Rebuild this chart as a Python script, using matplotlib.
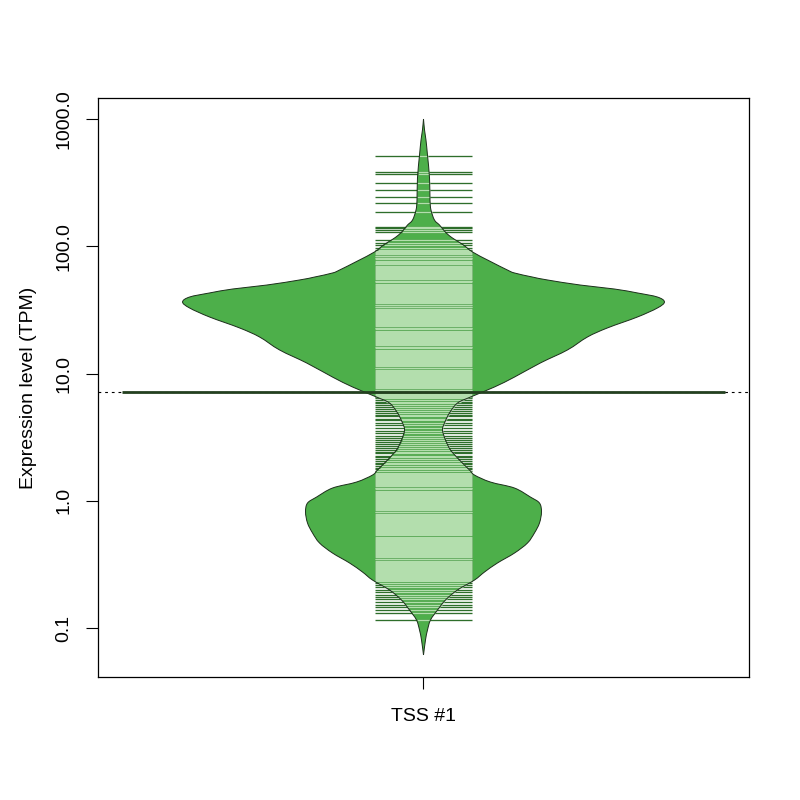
import matplotlib
matplotlib.use("Agg")
import matplotlib.pyplot as plt
import numpy as np
from matplotlib.patches import PathPatch
from matplotlib.path import Path

plt.rcParams["font.family"] = ["Liberation Sans", "DejaVu Sans"]

# bean outline: log10(TPM) and half-width (x units)
outline_log = [3.000, 2.914, 2.835, 2.717, 2.536, 2.363, 2.285, 2.206, 2.167, 2.128,
               2.088, 2.049, 2.010, 1.955, 1.884, 1.813, 1.790, 1.758, 1.735, 1.695,
               1.664, 1.633, 1.601, 1.562, 1.515, 1.444, 1.358, 1.287, 1.185, 1.083,
               0.972, 0.894, 0.815, 0.768, 0.690, 0.611, 0.556, 0.477, 0.399, 0.320,
               0.242, 0.202, 0.147, 0.100, 0.029, -0.018, -0.088, -0.175, -0.253, -0.332,
               -0.411, -0.489, -0.560, -0.623, -0.701, -0.780, -0.859, -0.937, -1.016, -1.094,
               -1.212]
outline_hw = [0.0, 0.0017, 0.0041, 0.0066, 0.0100, 0.0108, 0.0124, 0.0182, 0.0265, 0.0332,
              0.0415, 0.0531, 0.0663, 0.0813, 0.1095, 0.1393, 0.1509, 0.1808, 0.2056, 0.2604,
              0.3167, 0.3549, 0.3881, 0.3997, 0.3881, 0.3549, 0.3051, 0.2720, 0.2388, 0.1940,
              0.1509, 0.1177, 0.0779, 0.0564, 0.0431, 0.0348, 0.0315, 0.0365, 0.0448, 0.0597,
              0.0763, 0.0846, 0.1111, 0.1509, 0.1774, 0.1924, 0.1957, 0.1924, 0.1841, 0.1725,
              0.1509, 0.1227, 0.1012, 0.0846, 0.0564, 0.0365, 0.0232, 0.0116, 0.0066, 0.0033,
              0.0]

# individual observations (log10 TPM), one bean line each
obs_log = [
    2.709, 2.583, 2.568, 2.497, 2.442, 2.387, 2.340, 2.269, 2.151, 2.140, 2.125, 2.113,
    2.049, 2.029, 2.010, 1.990, 1.974, 1.959,
    1.951, 1.944, 1.938, 1.927, 1.921, 1.910, 1.904, 1.897, 1.886, 1.880, 1.871, 1.862,
    1.857, 1.846, 1.839, 1.833, 1.822, 1.815, 1.807, 1.799, 1.788, 1.782, 1.774, 1.766,
    1.757, 1.749, 1.741, 1.730, 1.724, 1.716, 1.707, 1.697, 1.691, 1.682, 1.675, 1.666,
    1.657, 1.650, 1.640, 1.633, 1.626, 1.615, 1.609, 1.601, 1.592, 1.584, 1.577, 1.566,
    1.560, 1.551, 1.542, 1.536, 1.525, 1.519, 1.510, 1.502, 1.495, 1.484, 1.478, 1.469,
    1.461, 1.453, 1.443, 1.437, 1.428, 1.419, 1.412, 1.402, 1.396, 1.387, 1.379, 1.371,
    1.361, 1.354, 1.347, 1.336, 1.329, 1.321, 1.312, 1.305, 1.294, 1.288, 1.279, 1.270,
    1.263, 1.253, 1.247, 1.238, 1.229, 1.222, 1.211, 1.205, 1.197, 1.188, 1.180, 1.171,
    1.164, 1.155, 1.146, 1.139, 1.129, 1.123, 1.114, 1.105, 1.097, 1.088, 1.081, 1.072,
    1.064, 1.057, 1.046, 1.040, 1.031, 1.022, 1.015, 1.005, 0.999, 0.990, 0.981, 0.974,
    0.964, 0.957, 0.949, 0.940, 0.933, 0.923, 0.916, 0.908, 0.898, 0.892, 0.883, 0.874,
    0.867, 0.857, 0.851, 0.842, 0.833, 0.826, 0.817,
    0.806, 0.791, 0.779, 0.768, 0.749, 0.736, 0.722, 0.709, 0.690, 0.676, 0.664, 0.645,
    0.631, 0.612, 0.596, 0.574, 0.551, 0.530, 0.512, 0.497, 0.479, 0.462, 0.448, 0.430,
    0.418, 0.401, 0.386, 0.372, 0.355, 0.341, 0.329, 0.312, 0.298, 0.285, 0.270, 0.259,
    0.246, 0.233, 0.222, 0.211,
    0.203, 0.196, 0.187, 0.180, 0.171, 0.162, 0.155, 0.145, 0.138, 0.130, 0.121, 0.114,
    0.104, 0.097, 0.089, 0.080, 0.072, 0.063, 0.056, 0.047, 0.038, 0.031, 0.022, 0.014,
    0.006, -0.003, -0.010, -0.019, -0.027, -0.034, -0.044, -0.051, -0.060, -0.068, -0.075,
    -0.085, -0.092, -0.101, -0.109, -0.117, -0.126, -0.133, -0.142, -0.150, -0.158, -0.167,
    -0.174, -0.183, -0.191, -0.199, -0.208, -0.215, -0.224, -0.232, -0.240, -0.249, -0.256,
    -0.265, -0.273, -0.281, -0.290, -0.297, -0.306, -0.314, -0.322, -0.331, -0.338, -0.347,
    -0.355, -0.363, -0.372, -0.379, -0.388, -0.396, -0.404, -0.413, -0.420, -0.429, -0.437,
    -0.445, -0.454, -0.461, -0.470, -0.478, -0.486, -0.495, -0.502, -0.511, -0.519, -0.527,
    -0.536, -0.543, -0.552, -0.560, -0.568, -0.577, -0.584, -0.593, -0.601, -0.609, -0.618,
    -0.626, -0.634,
    -0.646, -0.662, -0.678, -0.701, -0.718, -0.742, -0.756, -0.772, -0.796, -0.819, -0.835,
    -0.859, -0.882, -0.937,
]

mean_tpm = 7.16
group_labels = ["TSS #1"]
y_ticks = [0.1, 1.0, 10.0, 100.0, 1000.0]
y_tick_labels = ["0.1", "1.0", "10.0", "100.0", "1000.0"]

BEAN = "#4DAF4A"
LINE_IN = "#B3DEAD"
LINE_OUT = "#2E6E2B"
EDGE = "#1B2E1A"
AVG = "#23401F"


def smooth_side(xs, ys):
    """Bezier segments (Catmull-Rom control points) through the outline points."""
    p = np.column_stack([xs, ys])
    pe = np.vstack([p[0], p, p[-1]])
    verts, codes = [p[0]], [Path.MOVETO]
    for i in range(len(p) - 1):
        p0, p1, p2, p3 = pe[i], pe[i + 1], pe[i + 2], pe[i + 3]
        verts += [p1 + (p2 - p0) / 6.0, p2 - (p3 - p1) / 6.0, p2]
        codes += [Path.CURVE4] * 3
    return verts, codes


fig = plt.figure(figsize=(8, 8), dpi=100)
ax = fig.add_axes([0.1225, 0.15375, 0.81375, 0.72375])

pos = 1.0
hw = np.array(outline_hw)
ly = np.array(outline_log)
lv, lc = smooth_side(pos - hw, ly)
rv, rc = smooth_side((pos + hw)[::-1], ly[::-1])
rc[0] = Path.LINETO
bean = Path(lv + rv + [lv[0]], lc + rc + [Path.CLOSEPOLY])
ax.add_patch(PathPatch(bean, facecolor=BEAN, edgecolor="none", zorder=1))

# bean lines: dark outside the bean, light inside
line_hw = 0.08
obs = np.array(obs_log)
inner = np.minimum(np.interp(obs, ly[::-1], hw[::-1]), line_hw)
ax.hlines(obs, pos - line_hw, pos + line_hw, color=LINE_OUT, lw=0.95, zorder=2)
ax.hlines(obs, pos - inner, pos + inner, color=LINE_IN, lw=0.95, zorder=3)

ax.add_patch(PathPatch(Path(lv, lc), fill=False, edgecolor=EDGE, lw=0.7, zorder=4))
ax.add_patch(PathPatch(Path(rv, [Path.MOVETO] + rc[1:]), fill=False,
                       edgecolor=EDGE, lw=0.7, zorder=4))

# overall average (dotted) and bean average
mean_log = np.log10(mean_tpm)
ax.axhline(mean_log, color="black", lw=0.8, ls=(0, (2.5, 3.5)), zorder=4)
ax.hlines(mean_log, pos - 0.5, pos + 0.5, color=AVG, lw=2.0, zorder=5)

ax.set_ylim(-1.385, 3.165)
ax.set_xlim(0.46, 1.54)
ax.set_yticks(np.log10(y_ticks))
ax.set_yticklabels(y_tick_labels)
ax.set_xticks([pos])
ax.set_xticklabels(group_labels)
ax.tick_params(axis="both", labelsize=14, length=8.6, width=0.8, direction="out")
ax.tick_params(axis="x", pad=14)
ax.tick_params(axis="y", pad=10)
plt.setp(ax.get_yticklabels(), rotation=90, va="center")
for s in ax.spines.values():
    s.set_linewidth(0.9)

fig.text(29 / 800, 1 - 387.5 / 800, "Expression level (TPM)", rotation=90,
         ha="center", va="center", fontsize=14)

fig.savefig("out.png", dpi=100)
plt.close(fig)
